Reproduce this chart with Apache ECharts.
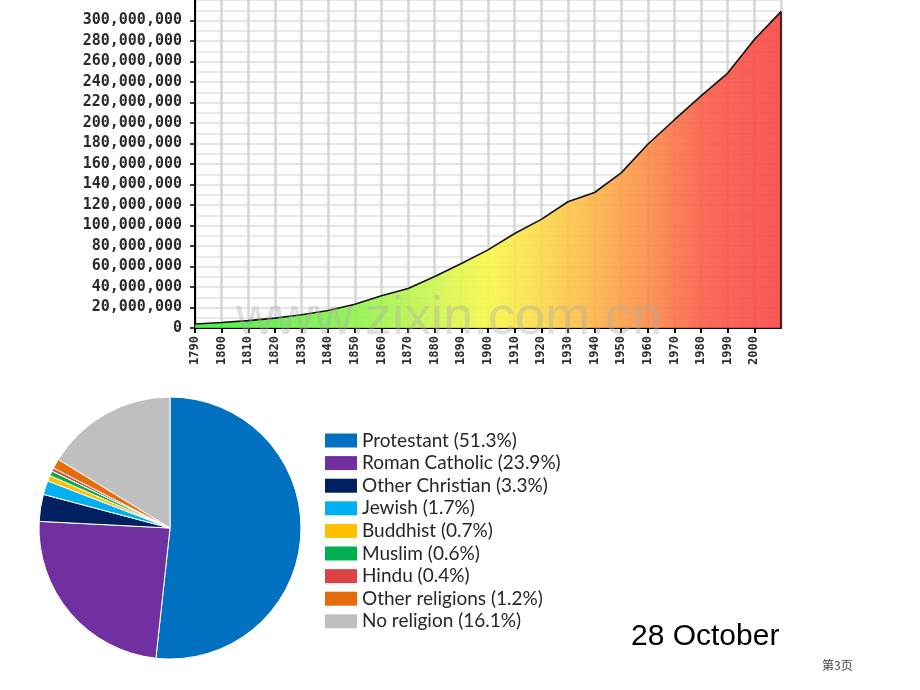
<!DOCTYPE html>
<html>
<head>
<meta charset="utf-8">
<script src="https://cdn.jsdelivr.net/npm/echarts@6/dist/echarts.min.js"></script>
<style>
html,body{margin:0;padding:0;background:#fff;}
#chart{width:920px;height:690px;}
</style>
</head>
<body>
<div id="chart"></div>
<script>
// Population data (US census)
const years = [1790,1800,1810,1820,1830,1840,1850,1860,1870,1880,1890,1900,1910,1920,1930,1940,1950,1960,1970,1980,1990,2000,2010];
const population = [3.9e6,5.3e6,7.2e6,9.6e6,12.9e6,17.1e6,23.2e6,31.4e6,38.6e6,50.2e6,63.0e6,76.2e6,92.2e6,106.0e6,123.2e6,132.2e6,151.3e6,179.3e6,203.2e6,226.5e6,248.7e6,281.4e6,308.7e6];

// Religion data
const religions = ['Protestant','Roman Catholic','Other Christian','Jewish','Buddhist','Muslim','Hindu','Other religions','No religion'];
const shares = [51.3,23.9,3.3,1.7,0.7,0.6,0.4,1.2,16.1];
const religionColors = ['#0070c0','#7030a0','#002060','#00b0f0','#ffc000','#00b050','#dc4444','#e46c0a','#bfbfbf'];

const dateText = '28 October';
const pageText = '第3页';
const watermark = 'www.zixin.com.cn';

const chart = echarts.init(document.getElementById('chart'));

const lineData = years.map((y, i) => [y, population[i]]);
const lastYear = years[years.length - 1];
const lastPop = population[population.length - 1];
const pieData = religions.map((n, i) => ({ name: n, value: shares[i], itemStyle: { color: religionColors[i] } }));
const shareOf = {};
religions.forEach((n, i) => { shareOf[n] = shares[i]; });

const monoLabel = { fontFamily: 'DejaVu Sans Mono', fontWeight: 'bold', color: '#2a2a2a' };

chart.setOption({
  animation: false,
  backgroundColor: '#ffffff',
  grid: { left: 195, right: 139, top: 0, bottom: 362, containLabel: false },
  xAxis: {
    type: 'value', min: 1790, max: 2010, interval: 10,
    axisLine: { show: true, onZero: false, lineStyle: { color: '#000', width: 2 } },
    axisTick: { show: true, length: 5, lineStyle: { color: '#000', width: 2 } },
    axisLabel: Object.assign({ rotate: 90, fontSize: 12, margin: 8, showMaxLabel: false, formatter: v => String(v) }, monoLabel),
    splitLine: { show: true, lineStyle: { color: '#d6d6d6', width: 2.5 } }
  },
  yAxis: {
    type: 'value', min: 0, max: 320e6, interval: 20e6,
    axisLine: { show: true, lineStyle: { color: '#000', width: 2 } },
    axisTick: { show: true, length: 5, lineStyle: { color: '#000', width: 1.5 } },
    axisLabel: Object.assign({ fontSize: 15, margin: 13, showMaxLabel: false, formatter: v => v.toLocaleString('en-US') }, monoLabel),
    splitLine: { show: true, lineStyle: { color: '#dcdcdc', width: 1.5 } },
    minorTick: { show: false, splitNumber: 2 },
    minorSplitLine: { show: true, lineStyle: { color: '#e2e2e2', width: 1.5 } }
  },
  legend: {
    orient: 'vertical', left: 325, top: 431, padding: 0,
    itemWidth: 32, itemHeight: 14, itemGap: 3.6,
    selectedMode: false,
    icon: 'rect',
    itemStyle: { borderWidth: 0 },
    textStyle: { fontFamily: 'Lato', fontSize: 19, lineHeight: 19, color: '#262626' },
    formatter: name => name + ' (' + shareOf[name] + '%)',
    data: religions
  },
  series: [
    {
      type: 'line',
      data: lineData,
      symbol: 'none',
      silent: true,
      lineStyle: { color: '#111', width: 1.6 },
      areaStyle: {
        opacity: 0.88,
        color: new echarts.graphic.LinearGradient(0, 0, 1, 0, [
          { offset: 0.0, color: '#36ea36' },
          { offset: 0.27, color: '#8af248' },
          { offset: 0.41, color: '#ccf54a' },
          { offset: 0.5, color: '#f7f743' },
          { offset: 0.59, color: '#fcd844' },
          { offset: 0.68, color: '#fbb242' },
          { offset: 0.77, color: '#fa8a42' },
          { offset: 0.87, color: '#f85842' },
          { offset: 1.0, color: '#f84040' }
        ])
      },
      markLine: {
        silent: true, symbol: 'none', label: { show: false },
        lineStyle: { color: '#111', width: 1.6, type: 'solid' },
        data: [[{ coord: [lastYear, 0] }, { coord: [lastYear, lastPop] }]]
      }
    },
    {
      type: 'pie',
      center: [170, 528],
      radius: 131,
      startAngle: 90,
      clockwise: true,
      silent: true,
      label: { show: false },
      labelLine: { show: false },
      itemStyle: { borderColor: '#ffffff', borderWidth: 1 },
      data: pieData
    }
  ],
  graphic: [
    {
      type: 'text', left: 631, top: 622, z: 10,
      style: { text: dateText, font: '30px "Liberation Sans", Arial, sans-serif', fill: '#000' }
    },
    {
      type: 'text', left: 822, top: 659, z: 10,
      style: { text: pageText, font: '12px "Noto Sans CJK SC", sans-serif', fill: '#444' }
    },
    {
      type: 'text', left: 236, top: 292, z: 20, silent: true,
      style: { text: watermark, font: '54px "Liberation Sans", Arial, sans-serif', fill: 'rgba(170,170,170,0.38)' }
    }
  ]
});
</script>
</body>
</html>
